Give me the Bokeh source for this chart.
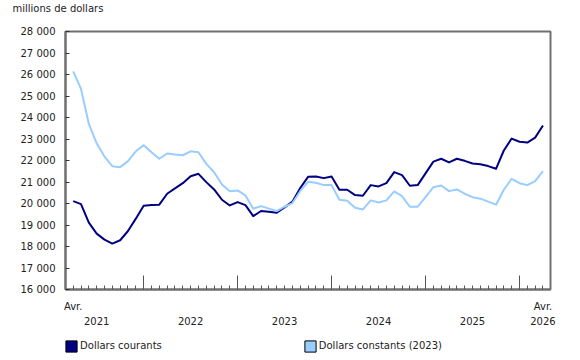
from bokeh.plotting import figure
from bokeh.layouts import column
from bokeh.models import Range1d, FixedTicker, LinearAxis, Legend, LegendItem
from bokeh.embed import file_html
from bokeh.resources import INLINE

# ---- data (monthly, April 2021 .. April 2026), millions of dollars ----
courants = [20110, 19970, 19110, 18600, 18320, 18135, 18290, 18720, 19295, 19900,
            19925, 19945, 20455, 20700, 20945, 21270, 21380, 20995, 20655, 20175,
            19910, 20065, 19925, 19415, 19650, 19620, 19575, 19820, 20085, 20720,
            21240, 21260, 21180, 21260, 20640, 20640, 20390, 20360, 20855, 20795,
            20945, 21460, 21320, 20825, 20855, 21400, 21950, 22080, 21910, 22080,
            21985, 21860, 21830, 21740, 21615, 22465, 23020, 22870, 22835, 23065, 23625]
constants = [26145, 25330, 23700, 22800, 22185, 21735, 21690, 21970, 22430, 22710,
             22385, 22080, 22325, 22280, 22245, 22425, 22385, 21845, 21455, 20885,
             20575, 20610, 20375, 19760, 19880, 19760, 19650, 19850, 20020, 20585,
             21010, 20965, 20855, 20855, 20175, 20130, 19805, 19725, 20145, 20050,
             20145, 20560, 20345, 19850, 19850, 20300, 20760, 20840, 20575, 20655,
             20455, 20295, 20225, 20085, 19945, 20640, 21150, 20945, 20855, 21040, 21505]
months = list(range(len(courants)))          # month index, 0 = Apr 2021

series_names = ["Dollars courants", "Dollars constants (2023)"]
y_ticks = list(range(16000, 28001, 1000))
year_labels = ["2021", "2022", "2023", "2024", "2025", "2026"]
year_label_pos = [3, 15, 27, 39, 51, 60]
month_labels = ["Avr.", "Avr."]
month_label_pos = [0, 60]
year_start_ticks = [9, 21, 33, 45, 57]       # January of each year

FONT = "DejaVu Sans"
TXT = "#222222"
DARK = "#000080"
LIGHT = "#99CCFF"
AXIS = "#707070"

p = figure(width=580, height=332, output_backend="svg", toolbar_location=None,
           x_range=Range1d(-0.98, 60.96), y_range=Range1d(16000, 28000),
           min_border_left=65, min_border_right=30, min_border_top=31, min_border_bottom=43)
p.xgrid.grid_line_color = None
p.ygrid.grid_line_color = None
p.outline_line_color = AXIS
p.outline_line_width = 2
p.background_fill_color = "white"
p.border_fill_color = "white"

p.title.text = "millions de dollars\n "
p.title.align = "left"
p.title.vertical_align = "top"
p.title.offset = -53
p.title.text_font = FONT
p.title.text_font_size = "10px"
p.title.text_font_style = "normal"
p.title.text_color = TXT
p.title.text_line_height = 1.45
p.title.standoff = 0

# lines
p.line(months, courants, line_color=DARK, line_width=2, line_join="round")
p.line(months, constants, line_color=LIGHT, line_width=2, line_join="round")

# y axis
yax = p.yaxis[0]
yax.ticker = FixedTicker(ticks=y_ticks)
yax.major_label_overrides = {t: f"{t:,}".replace(",", " ") for t in y_ticks}
yax.major_tick_in = 4
yax.major_tick_out = 0
yax.minor_tick_line_color = None
yax.axis_line_color = AXIS
yax.axis_line_width = 2
yax.major_tick_line_color = "#333333"
yax.major_label_standoff = 10
yax.major_label_text_font = FONT
yax.major_label_text_font_size = "10px"
yax.major_label_text_color = TXT

# x axis (ticks only)
xax = p.xaxis[0]
xax.ticker = FixedTicker(ticks=year_start_ticks, minor_ticks=months)
xax.major_tick_in = 14
xax.major_tick_out = 0
xax.minor_tick_in = 4
xax.minor_tick_out = 0
xax.major_tick_line_color = "#555555"
xax.minor_tick_line_color = "#555555"
xax.axis_line_color = AXIS
xax.axis_line_width = 2
xax.major_label_overrides = {t: "" for t in year_start_ticks}
xax.major_label_text_font_size = "0px"
xax.major_label_standoff = 0

def label_axis(ticks, labels, standoff):
    ax = LinearAxis(ticker=FixedTicker(ticks=ticks),
                    major_label_overrides={t: l for t, l in zip(ticks, labels)})
    ax.axis_line_color = None
    ax.major_tick_line_color = None
    ax.minor_tick_line_color = None
    ax.major_label_standoff = standoff
    ax.major_label_text_font = FONT
    ax.major_label_text_font_size = "10px"
    ax.major_label_text_color = TXT
    return ax

p.add_layout(label_axis(month_label_pos, month_labels, 5), "below")
p.add_layout(label_axis(year_label_pos, year_labels, -4), "below")

# legend strip (separate small figure under the chart; its frame aligns with the chart's)
lg = figure(width=580, height=28, output_backend="svg", toolbar_location=None,
            x_range=Range1d(0, 580), y_range=Range1d(0, 28),
            x_axis_type=None, y_axis_type=None, title_location=None, min_border=0)
lg.outline_line_color = None
lg.background_fill_color = "white"
lg.border_fill_color = "white"
# swatch glyphs kept outside the visible range; only their legend entries show
r1 = lg.quad(left=[-20], right=[-10], top=[-10], bottom=[-20],
             fill_color=DARK, line_color="#000000", line_width=1)
r2 = lg.quad(left=[-20], right=[-10], top=[-10], bottom=[-20],
             fill_color=LIGHT, line_color="#000000", line_width=1)
legend = Legend(items=[LegendItem(label=series_names[0], renderers=[r1]),
                       LegendItem(label=series_names[1], renderers=[r2])],
                location=(-0.9, 7.4), orientation="horizontal",
                glyph_width=14, glyph_height=14, label_standoff=2,
                label_width=20, label_height=14, spacing=141, padding=0, margin=0,
                border_line_color=None, background_fill_alpha=0,
                label_text_font=FONT, label_text_font_size="10px",
                label_text_color=TXT)
lg.add_layout(legend)

layout = column(p, lg, spacing=0)
open("out.html", "w").write(file_html(layout, INLINE))
